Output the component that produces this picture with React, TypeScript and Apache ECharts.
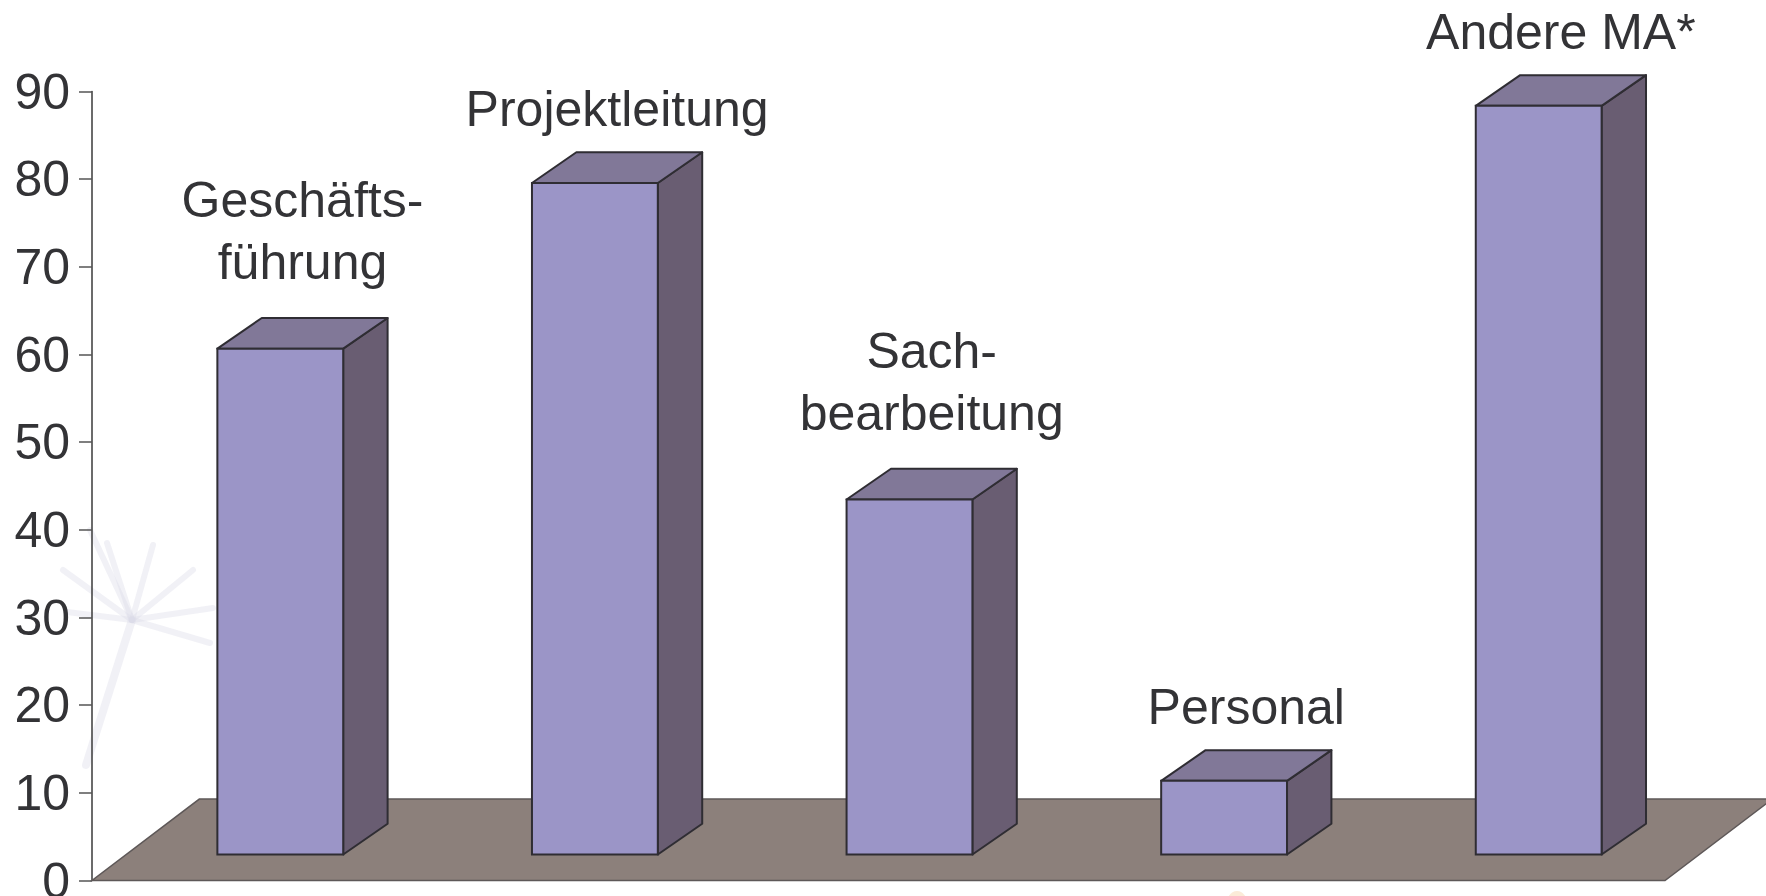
import React, { useEffect, useRef } from "react";
import * as echarts from "echarts";

const categories = ["Geschäfts-\nführung", "Projektleitung", "Sach-\nbearbeitung", "Personal", "Andere MA*"];
const values = [57.7, 76.6, 40.5, 8.4, 85.4];
const yTicks = { min: 0, max: 90, interval: 10 };

const FONT = "'Liberation Sans', Arial, Helvetica, sans-serif";
const TEXT = "#333336";
const FRONT = "#9b95c7";
const TOP = "#817898";
const SIDE = "#695d72";
const EDGE = "#2f2d33";
const FLOOR = "#8c807b";

export default function App() {
  const ref = useRef<HTMLDivElement>(null);
  useEffect(() => {
    if (!ref.current) return;
    const chart = echarts.init(ref.current, undefined, { renderer: "svg" });

    const faint = "rgba(220,220,232,0.4)";
    const cx = 132, cy = 620;
    const rays = [
      [107, 543], [153, 545], [63, 570], [193, 570], [67, 612], [213, 608], [210, 643], [90, 530],
    ];
    const watermark: any[] = rays.map(([x, y]) => ({
      type: "line",
      silent: true,
      z: -10,
      shape: { x1: cx, y1: cy, x2: x, y2: y },
      style: { stroke: faint, lineWidth: 6, lineCap: "round" },
    }));
    watermark.push({
      type: "line",
      silent: true,
      z: -10,
      shape: { x1: cx, y1: cy, x2: 86, y2: 765 },
      style: { stroke: faint, lineWidth: 8, lineCap: "round" },
    });
    watermark.push({
      type: "circle",
      silent: true,
      z: -10,
      shape: { cx: 1237, cy: 900, r: 9 },
      style: { fill: "rgba(240,175,100,0.25)" },
    });

    chart.setOption({
      animation: false,
      backgroundColor: "#ffffff",
      graphic: watermark,
      grid: {
        left: 92,
        right: 101,
        top: 91.5,
        bottom: 15.5,
        containLabel: false,
        outerBoundsMode: "none",
      },
      xAxis: {
        type: "category",
        data: categories,
        axisLine: { show: false },
        axisTick: { show: false },
        axisLabel: { show: false },
        splitLine: { show: false },
      },
      yAxis: {
        type: "value",
        min: yTicks.min,
        max: yTicks.max,
        interval: yTicks.interval,
        axisLine: { show: true, lineStyle: { color: "#3a3a3a", width: 1.5 } },
        axisTick: { show: true, length: 13, lineStyle: { color: "#555", width: 1.5 } },
        axisLabel: { color: TEXT, fontSize: 50, fontFamily: FONT, margin: 22 },
        splitLine: { show: false },
      },
      series: [
        {
          type: "custom",
          name: "floor",
          silent: true,
          data: [[0, 0]],
          renderItem: (params: any, api: any) => {
            const cs = params.coordSys;
            const x0 = cs.x, y0 = cs.y + cs.height, w = cs.width;
            const dx = 107.3, dy = -81.4;
            return {
              type: "polygon",
              shape: { points: [[x0, y0], [x0 + w, y0], [x0 + w + dx, y0 + dy], [x0 + dx, y0 + dy]] },
              style: { fill: FLOOR, stroke: "#5e5858", lineWidth: 1.5 },
            };
          },
        },
        {
          type: "custom",
          name: "bars",
          data: values.map((v, i) => [i, v]),
          encode: { x: 0, y: 1 },
          renderItem: (params: any, api: any) => {
            const i = api.value(0);
            const v = api.value(1);
            const base = api.coord([i, 0]);
            const topP = api.coord([i, v]);
            const bw = api.size([1, 0])[0];
            const lift = 26;
            const dx = 44.4, dy = -30.7;
            const L = base[0] - bw * 0.5 + bw * 0.3985;
            const W = bw * 0.4;
            const R = L + W;
            const bottom = base[1] - lift;
            const top = topP[1] - lift;
            const lw = 2;
            const label = categories[i];
            const multi = label.indexOf("\n") >= 0;
            const gap = multi ? 25 : 12;
            return {
              type: "group",
              children: [
                {
                  type: "polygon",
                  shape: { points: [[R, top], [R + dx, top + dy], [R + dx, bottom + dy], [R, bottom]] },
                  style: { fill: SIDE, stroke: EDGE, lineWidth: lw, lineJoin: "round" },
                },
                {
                  type: "polygon",
                  shape: { points: [[L, top], [L + dx, top + dy], [R + dx, top + dy], [R, top]] },
                  style: { fill: TOP, stroke: EDGE, lineWidth: lw, lineJoin: "round" },
                },
                {
                  type: "rect",
                  shape: { x: L, y: top, width: W, height: bottom - top },
                  style: { fill: FRONT, stroke: EDGE, lineWidth: lw },
                },
                {
                  type: "text",
                  style: {
                    text: label,
                    x: L + (W + dx) / 2,
                    y: top + dy - gap,
                    align: "center",
                    verticalAlign: "bottom",
                    fill: TEXT,
                    font: `50px ${FONT}`,
                    lineHeight: 62,
                  },
                },
              ],
            };
          },
        },
      ],
    });
    return () => chart.dispose();
  }, []);
  return (
    <div
      ref={ref}
      style={{ position: "absolute", left: 0, top: 0, width: 1766, height: 896, background: "#fff" }}
    />
  );
}
